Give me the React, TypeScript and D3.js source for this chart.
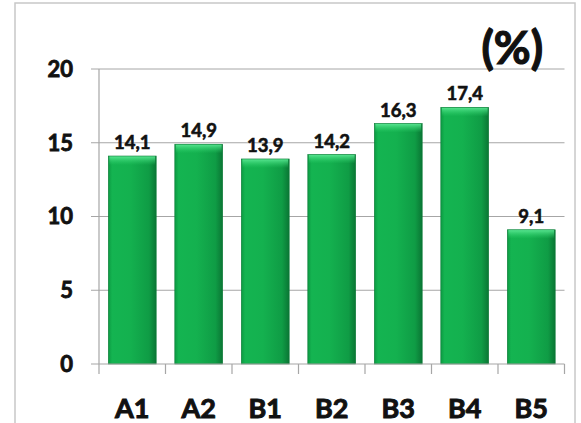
import React from "react";
import * as d3 from "d3";

const categories = ["A1", "A2", "B1", "B2", "B3", "B4", "B5"];
const values = [14.1, 14.9, 13.9, 14.2, 16.3, 17.4, 9.1];
const valueLabels = ["14,1", "14,9", "13,9", "14,2", "16,3", "17,4", "9,1"];
const yTicks = [0, 5, 10, 15, 20];

export default function App() {
  const W = 581, H = 423;
  const left = 99, right = 564.5, top = 69, bottom = 364;
  const x = d3.scaleBand<string>().domain(categories).range([left, right]).paddingInner(0.28).paddingOuter(0.14);
  const y = d3.scaleLinear().domain([0, 20]).range([bottom, top]);
  const font = "Lato, 'Open Sans', Arial, sans-serif";
  const bw = x.bandwidth();
  const bandEdges = categories.map((_, i) => left + i * ((right - left) / categories.length));
  bandEdges.push(right);
  const bold = { fontFamily: font, fontWeight: 700, fill: "#111", stroke: "#111", paintOrder: "stroke" } as const;
  return (
    <svg width={W} height={H} style={{ position: "absolute", left: 0, top: 0 }}>
      <defs>
        <linearGradient id="gx" x1="0" x2="1" y1="0" y2="0">
          <stop offset="0" stopColor="#0c9a42" />
          <stop offset="0.08" stopColor="#14b451" />
          <stop offset="0.45" stopColor="#14b14f" />
          <stop offset="0.85" stopColor="#0f9c45" />
          <stop offset="1" stopColor="#0a7634" />
        </linearGradient>
        <linearGradient id="gt" x1="0" x2="0" y1="0" y2="1">
          <stop offset="0" stopColor="#5ee996" stopOpacity="0.95" />
          <stop offset="1" stopColor="#2fd46c" stopOpacity="0" />
        </linearGradient>
      </defs>
      <rect x={0} y={0} width={W} height={H} fill="#fff" />
      <rect x={15} y={3} width={560} height={440} fill="none" stroke="#c8c8c8" strokeWidth={1.5} />
      {yTicks.filter(t => t > 0).map(t => (
        <line key={"g" + t} x1={left - 8} x2={right} y1={y(t)} y2={y(t)} stroke="#a6a6a6" strokeWidth={1} />
      ))}
      {yTicks.map(t => (
        <text key={"yl" + t} x={73} y={y(t)} dy="0.36em" textAnchor="end" {...bold} strokeWidth={0.8} fontSize={22}>{t}</text>
      ))}
      {categories.map((c, i) => {
        const v = values[i];
        const bx = x(c)!;
        const by = y(v);
        const bh = y(0) - by;
        return (
          <g key={c}>
            <rect x={bx} y={by} width={bw} height={bh} fill="url(#gx)" />
            <rect x={bx + 1} y={by} width={bw - 2} height={Math.min(9, bh)} fill="url(#gt)" />
            <rect x={bx} y={by} width={bw} height={bh} fill="none" stroke="#0a7a35" strokeWidth={0.6} />
            <text x={bx + bw / 2} y={by - 7} textAnchor="middle" {...bold} strokeWidth={0.6} fontSize={18.5}>{valueLabels[i]}</text>
            <text x={bx + bw / 2} y={418} textAnchor="middle" {...bold} strokeWidth={1} fontSize={27}>{c}</text>
          </g>
        );
      })}
      <line x1={left} x2={left} y1={top} y2={bottom} stroke="#a6a6a6" strokeWidth={1.2} />
      <line x1={left - 8} x2={right} y1={bottom} y2={bottom} stroke="#a6a6a6" strokeWidth={1.2} />
      {bandEdges.map((bx, i) => (
        <line key={"t" + i} x1={bx} x2={bx} y1={bottom} y2={bottom + 10} stroke="#a6a6a6" strokeWidth={1.2} />
      ))}
      <text x={543} y={64} textAnchor="end" {...bold} strokeWidth={1.2} fontSize={45}>(%)</text>
    </svg>
  );
}
